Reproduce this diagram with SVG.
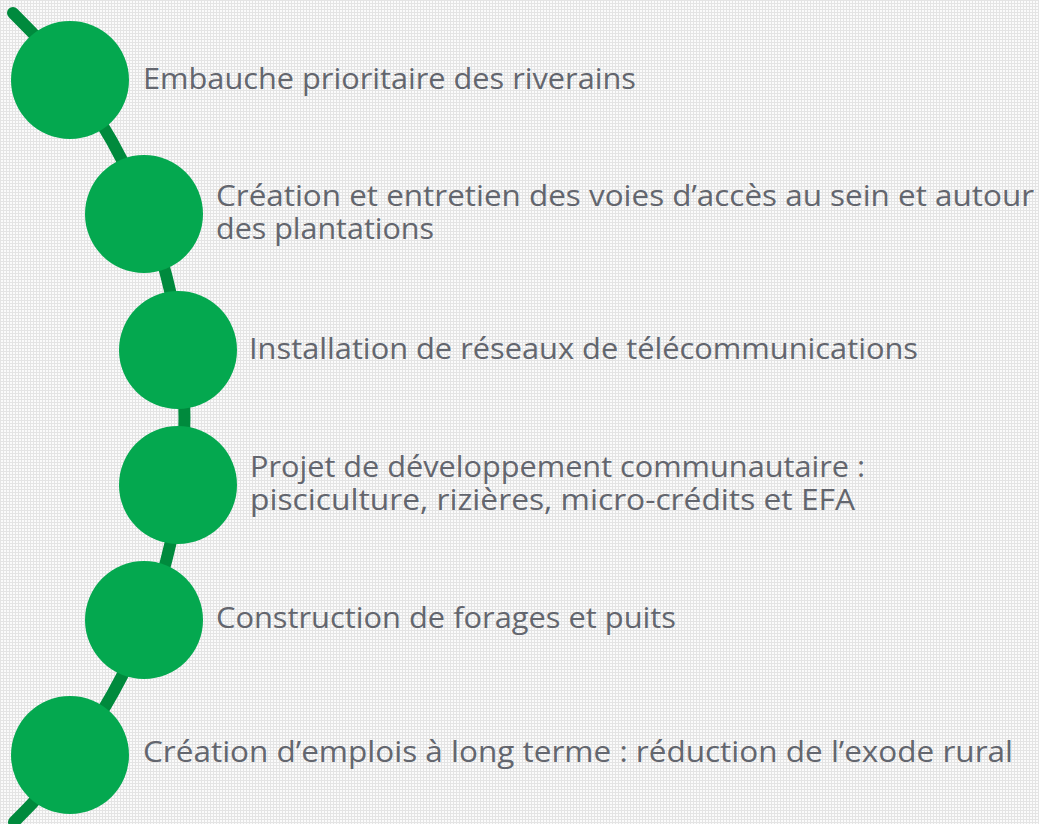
<svg xmlns="http://www.w3.org/2000/svg" width="1039" height="824" viewBox="0 0 1039 824">
<defs>
<pattern id="grid" width="6" height="6" patternUnits="userSpaceOnUse">
<rect width="6" height="6" fill="#fbfbfb"/>
<path d="M0.5 0V6M3.5 0V6M0 0.5H6M0 3.5H6" stroke="#e4e4e4" stroke-width="1"/>
</pattern>
<style>
.node{fill:#04a84f}
.lbl{font-family:"Open Sans","DejaVu Sans",sans-serif;font-size:30px;fill:#63666e}
.spine{fill:none;stroke:#008a3d;stroke-width:12;stroke-linecap:round}
</style>
</defs>
<rect width="1039" height="824" fill="url(#grid)"/>
<g id="connectors">
<path class="spine" d="M13 13A564 564 0 0 1 14 822"/>
</g>
<g id="n1"><circle class="node" cx="70" cy="80" r="59"/><text class="lbl" x="143" y="89" textLength="493" lengthAdjust="spacingAndGlyphs">Embauche prioritaire des riverains</text></g>
<g id="n2"><circle class="node" cx="144" cy="214" r="59"/><text class="lbl" x="216" y="206" textLength="818" lengthAdjust="spacingAndGlyphs">Création et entretien des voies d’accès au sein et autour</text><text class="lbl" x="216" y="239" textLength="218" lengthAdjust="spacingAndGlyphs">des plantations</text></g>
<g id="n3"><circle class="node" cx="178" cy="350" r="59"/><text class="lbl" x="249" y="359" textLength="669" lengthAdjust="spacingAndGlyphs">Installation de réseaux de télécommunications</text></g>
<g id="n4"><circle class="node" cx="178" cy="485" r="59"/><text class="lbl" x="250" y="477" textLength="615" lengthAdjust="spacingAndGlyphs">Projet de développement communautaire :</text><text class="lbl" x="250" y="510" textLength="605" lengthAdjust="spacingAndGlyphs">pisciculture, rizières, micro-crédits et EFA</text></g>
<g id="n5"><circle class="node" cx="144" cy="620" r="59"/><text class="lbl" x="216" y="628" textLength="460" lengthAdjust="spacingAndGlyphs">Construction de forages et puits</text></g>
<g id="n6"><circle class="node" cx="70" cy="755" r="59"/><text class="lbl" x="143" y="762" textLength="870" lengthAdjust="spacingAndGlyphs">Création d’emplois à long terme : réduction de l’exode rural</text></g>
</svg>
